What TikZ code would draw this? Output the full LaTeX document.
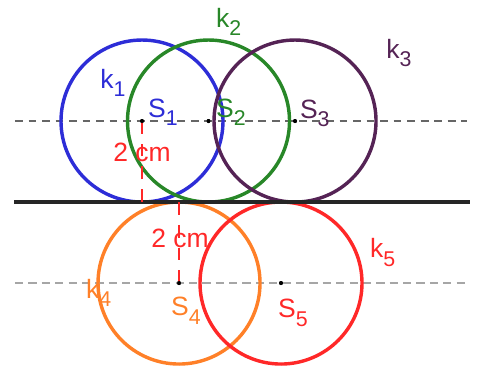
\documentclass[tikz,border=0pt]{standalone}
\usepackage{fontspec}
\setmainfont{Liberation Sans}
\usepackage{color}
\definecolor{cblue}{RGB}{45,45,215}
\definecolor{cgreen}{RGB}{40,135,40}
\definecolor{cpurple}{RGB}{85,35,85}
\definecolor{corange}{RGB}{255,128,40}
\definecolor{cred}{RGB}{255,40,40}
\newcommand{\lowidx}[1]{\raisebox{-6.3pt}{\fontsize{15}{16}\selectfont #1}}
\usetikzlibrary{calc,positioning}
\tikzset{
	circ/.style={line width=2.4pt},
	centre/.style={
		circle, fill=black, inner sep=0pt,
		minimum size=2.8pt
	},
	lbl/.style={
		anchor=base west, inner sep=0pt,
		font=\fontsize{18.6}{20}\selectfont
	},
	axis_upper/.style={draw=black!60, line width=0.9pt, dash pattern=on 5.5pt off 4pt},
	axis_lower/.style={draw=black!35, line width=1.3pt, dash pattern=on 5.8pt off 3.6pt},
	ground/.style={draw=black!85, line width=3.2pt},
	radius_line/.style={draw=cred, line width=2pt, dash pattern=on 9pt off 7pt}
}

\begin{document}
\begin{tikzpicture}
				\useasboundingbox (0,-4.074) rectangle (11.802,4.988);
				% centres
				\node[centre] (S1) at (3.506,2) {};
				\node[centre] (S2) at (5.148,2) {};
				\node[centre] (S3) at (7.284,2) {};
				\node[centre] (S4) at (4.420,-2) {};
				\node[centre] (S5) at (6.938,-2) {};
				\coordinate (G) at (0,0);
				\coordinate (gl) at (0.346,0);
				\coordinate (gr) at (11.6,0);
				\coordinate (ul) at (0.37,2);
				\coordinate (ur) at (11.53,2);
				\coordinate (dl) at (0.37,-2);
				\coordinate (dr) at (11.53,-2);
				% axes and ground line
				\draw[axis_upper] (ul) -- (ur);
				\draw[axis_lower] (dl) -- (dr);
				% circles
				\draw[circ, cblue]   (S1.center) circle (2);
				\draw[circ, cgreen]  (S2.center) circle (2);
				\draw[circ, cpurple] (S3.center) circle (2);
				\draw[circ, corange] (S4.center) circle (2);
				\draw[circ, cred]    (S5.center) circle (2);
				\draw[ground] (gl) -- (gr);
				% radii
				\draw[radius_line] (S1 |- G) -- (S1.center);
				\draw[radius_line] (S4 |- G) -- (S4.center);
				\node[centre] at (S1) {};
				\node[centre] at (S2) {};
				\node[centre] at (S3) {};
				\node[centre] at (S4) {};
				\node[centre] at (S5) {};
				% labels
				\node[lbl, text=cblue]   (k1) at (2.47,2.815)  {k\lowidx{1}};
				\node[lbl, text=cgreen]  (k2) at (5.33,4.321)  {k\lowidx{2}};
				\node[lbl, text=cpurple] (k3) at (9.53,3.556)  {k\lowidx{3}};
				\node[lbl, text=corange] (k4) at (2.12,-2.370) {k\lowidx{4}};
				\node[lbl, text=cred]    (k5) at (9.13,-1.358) {k\lowidx{5}};
				\node[lbl, text=cblue]   (s1) at (3.65,2.099)  {S\lowidx{1}};
				\node[lbl, text=cgreen]  (s2) at (5.33,2.099)  {S\lowidx{2}};
				\node[lbl, text=cpurple] (s3) at (7.40,2.074)  {S\lowidx{3}};
				\node[lbl, text=corange] (s4) at (4.22,-2.790) {S\lowidx{4}};
				\node[lbl, text=cred]    (s5) at (6.86,-2.840) {S\lowidx{5}};
				\node[lbl, text=cred]    (d1) at (2.79,1.012)  {2 cm};
				\node[lbl, text=cred]    (d2) at (3.73,-1.111) {2 cm};
			\end{tikzpicture}
\end{document}
